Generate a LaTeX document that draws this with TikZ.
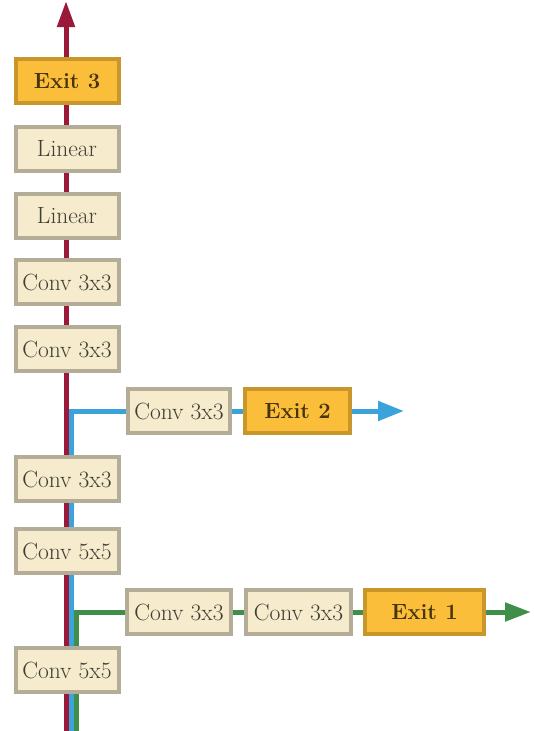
\documentclass[tikz,border=0pt]{standalone}
\usetikzlibrary{arrows.meta,backgrounds}
\definecolor{boxfill}{HTML}{F6EBCD}
\definecolor{boxline}{HTML}{B3AC96}
\definecolor{boxtext}{HTML}{3E3E34}
\definecolor{exitfill}{HTML}{FBBE3A}
\definecolor{exitline}{HTML}{C9962C}
\definecolor{exittext}{HTML}{46340E}
\definecolor{pathred}{HTML}{9A1838}
\definecolor{pathblue}{HTML}{3BA3DB}
\definecolor{pathgreen}{HTML}{3F8F4B}
\tikzset{
  layer/.style={draw=boxline, fill=boxfill, line width=4pt, text=boxtext,
    minimum width=103pt, minimum height=44pt, inner sep=0pt,
    font=\fontsize{23.5}{25}\selectfont},
  exitbox/.style={layer, draw=exitline, fill=exitfill, text=exittext,
    font=\fontsize{22}{24}\selectfont\bfseries},
  route/.style={line width=5pt},
  tipbig/.style={-{Triangle[length=26pt,width=17pt]}}
}
\begin{document}
\begin{tikzpicture}[x=1pt,y=-1pt]
\useasboundingbox (0,0) rectangle (534,731);
% main column
\node[exitbox] (exit3) at (67,81) {Exit 3};
\node[layer] (lin2) at (67,149) {Linear};
\node[layer] (lin1) at (67,216) {Linear};
\node[layer] (c4) at (67,282) {Conv 3x3};
\node[layer] (c3) at (67,349) {Conv 3x3};
\node[layer] (c2) at (67,479) {Conv 3x3};
\node[layer] (c55b) at (67,551) {Conv 5x5};
\node[layer] (c55a) at (67,670) {Conv 5x5};
% second branch
\node[layer, minimum width=102pt] (b2c) at (179,411) {Conv 3x3};
\node[exitbox, minimum width=105pt] (exit2) at (297.5,411) {Exit 2};
% first branch
\node[layer, minimum width=104pt] (b1c1) at (179,612) {Conv 3x3};
\node[layer, minimum width=105pt] (b1c2) at (298.5,612) {Conv 3x3};
\node[exitbox, minimum width=119pt] (exit1) at (424.5,612) {Exit 1};
% entry and exit points of the routes
\coordinate (redin) at (66,731);
\coordinate (redout) at (66,1);
\coordinate (bluein) at (71,731);
\coordinate (blueout) at (404,411);
\coordinate (greenin) at (76,731);
\coordinate (greenout) at (531,612);
\begin{scope}[on background layer]
  \draw[route, pathred, tipbig] (redin) -- (redout);
  \draw[route, pathblue] (bluein) |- (b2c.west);
  \draw[route, pathblue] (b2c) -- (exit2);
  \draw[route, pathblue, -{Triangle[length=26pt,width=19pt]}] (exit2) -- (blueout);
  \draw[route, pathgreen] (greenin) |- (b1c1.west);
  \draw[route, pathgreen] (b1c1) -- (b1c2);
  \draw[route, pathgreen] (b1c2) -- (exit1);
  \draw[route, pathgreen, -{Triangle[length=26pt,width=18pt]}] (exit1) -- (greenout);
\end{scope}
\end{tikzpicture}
\end{document}
